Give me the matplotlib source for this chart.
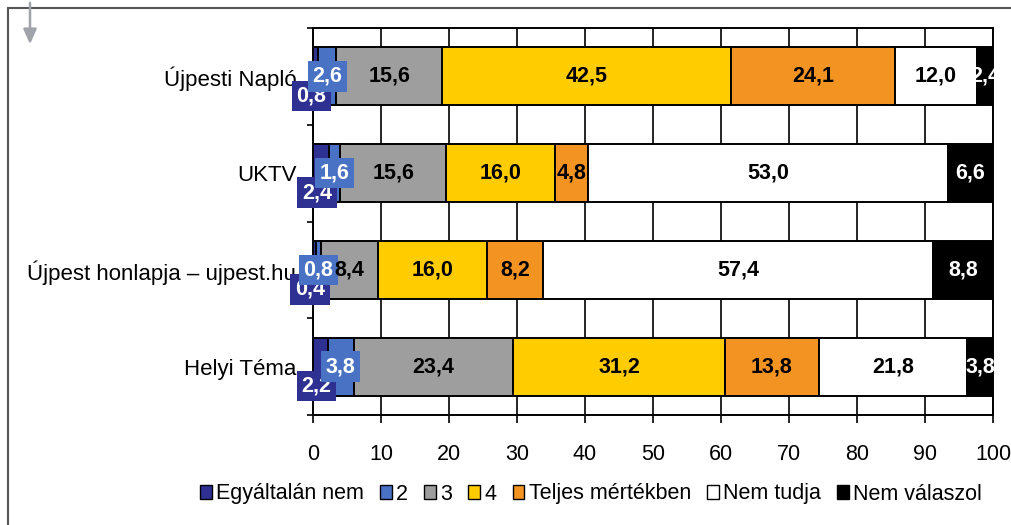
import numpy as np
import matplotlib
matplotlib.use("Agg")
import matplotlib.pyplot as plt
from matplotlib.patches import Rectangle, Patch, FancyArrowPatch

plt.rcParams['font.family'] = ['Liberation Sans', 'DejaVu Sans']

categories = ["Újpesti Napló", "UKTV", "Újpest honlapja – ujpest.hu", "Helyi Téma"]
series_names = ["Egyáltalán nem", "2", "3", "4", "Teljes mértékben", "Nem tudja", "Nem válaszol"]
egyaltalan = [0.8, 2.4, 0.4, 2.2]
ketto = [2.6, 1.6, 0.8, 3.8]
harom = [15.6, 15.6, 8.4, 23.4]
negy = [42.5, 16.0, 16.0, 31.2]
teljes = [24.1, 4.8, 8.2, 13.8]
nem_tudja = [12.0, 53.0, 57.4, 21.8]
nem_valaszol = [2.4, 6.6, 8.8, 3.8]
xticks = [0, 10, 20, 30, 40, 50, 60, 70, 80, 90, 100]

colors = ["#2E3192", "#4A72C4", "#9E9E9E", "#FFCC00", "#F39422", "#FFFFFF", "#000000"]
text_colors = ["white", "white", "black", "black", "black", "black", "white"]

data = [egyaltalan, ketto, harom, negy, teljes, nem_tudja, nem_valaszol]

fig = plt.figure(figsize=(10.11, 5.25), dpi=100)
ax = fig.add_axes([313/1011, 1-415/525, (993-313)/1011, (415-28)/525])

y = np.arange(len(categories))
left = np.zeros(len(categories))
for i, vals in enumerate(data):
    vals = np.array(vals)
    ax.barh(y, vals, left=left, height=0.6, color=colors[i], edgecolor="black",
            linewidth=1.4, zorder=2)
    for j, v in enumerate(vals):
        cx = left[j] + v / 2
        txt = f"{v:.1f}".replace(".", ",")
        if i == 0:
            ax.annotate(txt, (cx, y[j]), xytext=(-3, -14), textcoords="offset points",
                        ha="center", va="center", color="white", fontsize=15.5,
                        fontweight="bold", zorder=5,
                        bbox=dict(boxstyle="square,pad=0.22", fc=colors[0], ec="none"))
        elif i == 1:
            ax.annotate(txt, (cx, y[j]), xytext=(0, 0), textcoords="offset points",
                        ha="center", va="center", color="white", fontsize=15.5,
                        fontweight="bold", zorder=5,
                        bbox=dict(boxstyle="square,pad=0.22", fc=colors[1], ec="none"))
        else:
            ax.annotate(txt, (cx, y[j]), ha="center", va="center",
                        color=text_colors[i], fontsize=15.5, fontweight="bold",
                        zorder=5)
    left += vals

ax.set_xlim(0, 100)
ax.set_ylim(len(categories) - 0.5, -0.5)
ax.set_xticks(xticks)
ax.set_xticklabels([str(t) for t in xticks], fontsize=15.5)
ax.set_yticks(y)
ax.set_yticklabels(categories, fontsize=16)
ax.set_yticks(np.arange(len(categories) + 1) - 0.5, minor=True)
ax.tick_params(axis="y", which="major", length=0, pad=12)
ax.tick_params(axis="y", which="minor", length=4, width=1.2, direction="out")
ax.tick_params(axis="x", length=6, width=1.2, direction="out", pad=15)
ax.grid(axis="x", color="black", linewidth=1.2, zorder=0)
ax.set_axisbelow(True)
for s in ax.spines.values():
    s.set_linewidth(1.4)
    s.set_color("black")

handles = [Patch(facecolor=colors[k], edgecolor="black", linewidth=1.0) for k in range(len(series_names))]
fig.legend(handles, series_names, loc="center", bbox_to_anchor=(591/1011, 1-494/525),
           ncol=7, frameon=False, fontsize=15.5, handlelength=0.55, handleheight=0.65,
           handletextpad=0.2, columnspacing=0.75)

# outer frame and arrow
fig.patches.append(Rectangle((8/1011, -0.1), 1.2, 1 - 8/525 + 0.1, transform=fig.transFigure,
                             fill=False, edgecolor="#555555", linewidth=1.5, zorder=0))
fig.add_artist(FancyArrowPatch((30/1011, 1.0), (30/1011, 1-47/525),
               transform=fig.transFigure, arrowstyle="-|>,head_length=9,head_width=4",
               color="#A0A4AA", linewidth=1.8))

fig.savefig("out.png", dpi=100)
